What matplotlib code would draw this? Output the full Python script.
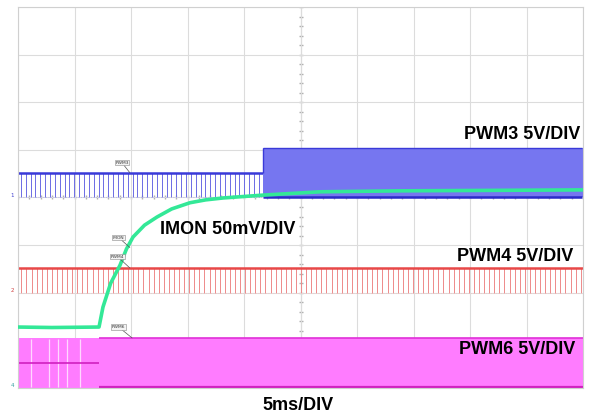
import numpy as np
import matplotlib
matplotlib.use("Agg")
import matplotlib.pyplot as plt

# ---------------- data (time in ms, amplitude in scope divisions) ----------------
time_span_ms = [0.0, 50.0]
div_span = [0.0, 8.0]

# PWM3 (channel 1, blue)
pwm3_low = 4.0
pwm3_high_before = 4.52
pwm3_high_after = 5.04
pwm3_switch_ms = 21.7
pwm3_period_ms = 0.43

# PWM4 (channel 2, red)
pwm4_low = 2.0
pwm4_high = 2.52
pwm4_period_ms = 0.45

# PWM6 (channel 4, magenta)
pwm6_low = 0.0
pwm6_high = 1.05
pwm6_mid_before = 0.525
pwm6_switch_ms = 7.17
pwm6_gaps_ms = [1.15, 2.74, 3.54, 4.34, 5.49]

# IMON (green)
imon_t = [0.0, 3.0, 7.17, 7.52, 8.2, 9.03, 9.6, 10.18, 11.2, 12.30, 13.6, 15.22,
          16.6, 18.14, 21.68, 26.73, 33.8, 42.0, 50.0]
imon_v = [1.28, 1.27, 1.28, 1.70, 2.20, 2.58, 2.92, 3.17, 3.42, 3.59, 3.76, 3.89,
          3.95, 3.99, 4.05, 4.12, 4.14, 4.15, 4.16]

# ---------------- figure ----------------
fig = plt.figure(figsize=(5.89, 4.15), dpi=100)
ax = fig.add_axes([18/589, 27/415, 565/589, 381/415])
ax.set_xlim(*time_span_ms)
ax.set_ylim(*div_span)

# graticule
ax.set_xticks(np.arange(0, 51, 5))
ax.set_yticks(np.arange(0, 9, 1))
ax.tick_params(length=0, labelbottom=False, labelleft=False)
ax.grid(True, color='#dcdcdc', linewidth=0.8)
for s in ax.spines.values():
    s.set_color('#d0d0d0')
    s.set_linewidth(0.8)
ax.axvline(25, color='#c8c8c8', linewidth=0.8, zorder=0.5)
ax.plot(np.arange(0, 51, 1), np.full(51, 4.0), linestyle='none', marker='|',
        markersize=3, color='#b0b0b0', zorder=0.6)
ax.plot(np.full(41, 25.0), np.arange(0, 8.01, 0.2), linestyle='none', marker='_',
        markersize=3, color='#b0b0b0', zorder=0.6)

# ---- PWM3 ----
blue_fill = '#7676f0'
blue_line = '#3a3ad8'
t3 = np.arange(0.25, pwm3_switch_ms, pwm3_period_ms)
ax.vlines(t3, pwm3_low, pwm3_high_before, color='#6c6ce4', linewidth=0.7, zorder=2)
ax.hlines(pwm3_high_before, 0, pwm3_switch_ms, color=blue_line, linewidth=1.8, zorder=2)
ax.hlines(pwm3_low, 0, pwm3_switch_ms, color='#b0b0ee', linewidth=0.6,
          linestyle=(0, (1, 2)), zorder=2)
ax.fill_between([pwm3_switch_ms, 50], pwm3_low, pwm3_high_after, color=blue_fill,
                linewidth=0, zorder=2)
ax.vlines(pwm3_switch_ms, pwm3_high_before, pwm3_high_after, color=blue_line,
          linewidth=1.0, zorder=2)
ax.hlines(pwm3_high_after, pwm3_switch_ms, 49.9, color=blue_line, linewidth=1.0, zorder=2)
ax.hlines(pwm3_low, pwm3_switch_ms, 49.9, color='#2a2ac8', linewidth=1.8, zorder=2)

# ---- PWM4 ----
t4 = np.arange(0.3, 50, pwm4_period_ms)
ax.vlines(t4, pwm4_low, pwm4_high, color='#ee8a8a', linewidth=0.7, zorder=2)
ax.hlines(pwm4_high, 0, 50, color='#e84848', linewidth=1.8, zorder=2)
ax.hlines(pwm4_low, 0, 50, color='#f4c4c4', linewidth=0.6,
          linestyle=(0, (1, 2)), zorder=2)

# ---- PWM6 ----
mag_fill = '#ff7cff'
mag_line = '#e030d8'
ax.fill_between([0, 50], pwm6_low, pwm6_high, color=mag_fill, linewidth=0, zorder=2)
ax.vlines(pwm6_gaps_ms, pwm6_low + 0.02, pwm6_high - 0.02, color='#ffd8ff',
          linewidth=0.9, zorder=2)
ax.hlines(pwm6_mid_before, 0, pwm6_switch_ms, color='#d020c0', linewidth=1.2, zorder=2)
ax.hlines(pwm6_high, pwm6_switch_ms, 50, color=mag_line, linewidth=1.2, zorder=2)
ax.hlines(pwm6_low + 0.02, pwm6_switch_ms, 50, color='#d020c0', linewidth=1.6, zorder=2)

# ---- IMON ----
ax.plot(imon_t, imon_v, color='#33e897', linewidth=2.6, solid_capstyle='butt', zorder=3)

# ---- small channel tags ----
tag_font = dict(fontsize=3.2, family='DejaVu Sans', color='#333333')
tag_box = dict(boxstyle='square,pad=0.15', facecolor='#f4f4f4', edgecolor='#888888', linewidth=0.4)
tags = [('PWM3', (9.2, 4.73), (9.9, pwm3_high_before)),
        ('IMON', (8.9, 3.16), (9.9, 2.95)),
        ('PWM4', (8.8, 2.76), (9.9, pwm4_high)),
        ('PWM6', (8.9, 1.28), (10.1, pwm6_high)),]
for name, pos, target in tags:
    ax.annotate(name, xy=target, xytext=pos, ha='center', va='center',
                bbox=tag_box, arrowprops=dict(arrowstyle='-', color='#555555', linewidth=0.5,
                                              shrinkA=0, shrinkB=0), zorder=5, **tag_font)

# channel markers at left
ax.text(-0.35, pwm3_low + 0.05, '1', fontsize=4, color='#4040d0', ha='right', va='center', clip_on=False)
ax.text(-0.35, pwm4_low + 0.05, '2', fontsize=4, color='#d04040', ha='right', va='center', clip_on=False)
ax.text(-0.35, pwm6_low + 0.05, '4', fontsize=4, color='#30a0a0', ha='right', va='center', clip_on=False)

# ---- big labels ----
lab = dict(fontsize=13, fontweight='bold', family='Liberation Sans', color='black', zorder=6)
ax.text(49.8, 5.33, 'PWM3 5V/DIV', ha='right', va='center', **lab)
ax.text(49.1, 2.76, 'PWM4 5V/DIV', ha='right', va='center', **lab)
ax.text(49.3, 0.80, 'PWM6 5V/DIV', ha='right', va='center', **lab)
ax.text(12.6, 3.32, 'IMON 50mV/DIV', ha='left', va='center', **lab)
fig.text(298/589, 1 - 405/415, '5ms/DIV', ha='center', va='center',
         fontsize=13, fontweight='bold', family='Liberation Sans')

fig.savefig('out.png', dpi=100)
